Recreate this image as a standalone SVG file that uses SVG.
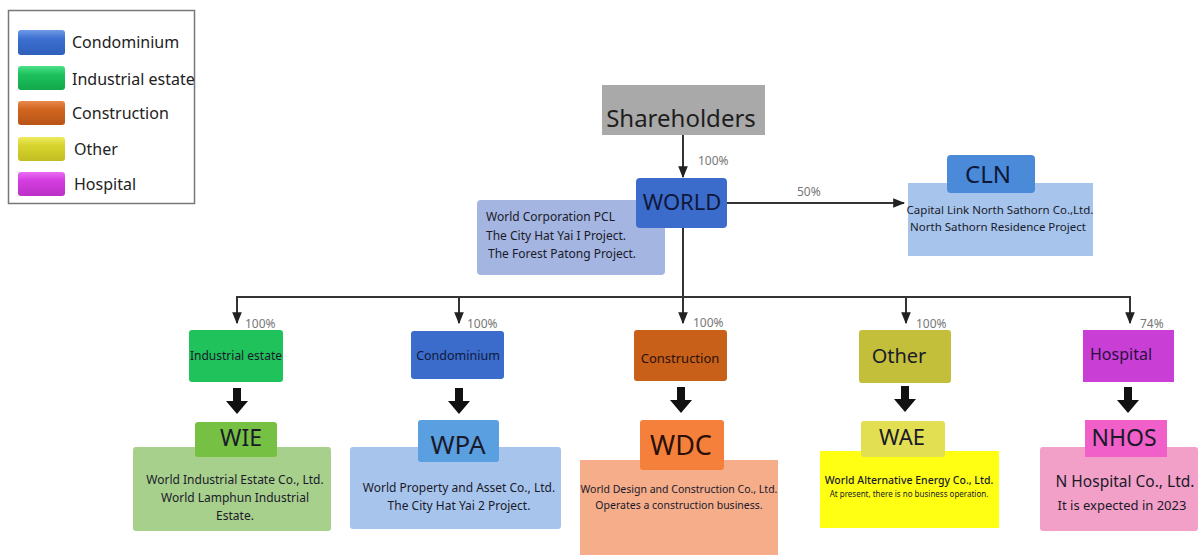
<svg xmlns="http://www.w3.org/2000/svg" width="1200" height="555" viewBox="0 0 1200 555">
<defs>
<marker id="ah" viewBox="0 0 10 10" refX="9" refY="5" markerWidth="6" markerHeight="6" orient="auto"><path d="M0,1 L10,5 L0,9 z" fill="#222"/></marker>
<linearGradient id="gBlue" x1="0" y1="0" x2="0" y2="1"><stop offset="0" stop-color="#6f9ae6"/><stop offset="0.35" stop-color="#3c6fd0"/><stop offset="1" stop-color="#2f5fba"/></linearGradient>
<linearGradient id="gGreen" x1="0" y1="0" x2="0" y2="1"><stop offset="0" stop-color="#4ee08a"/><stop offset="0.35" stop-color="#1cc25c"/><stop offset="1" stop-color="#12a84c"/></linearGradient>
<linearGradient id="gOrange" x1="0" y1="0" x2="0" y2="1"><stop offset="0" stop-color="#e88a4c"/><stop offset="0.35" stop-color="#d0651f"/><stop offset="1" stop-color="#b85418"/></linearGradient>
<linearGradient id="gYellow" x1="0" y1="0" x2="0" y2="1"><stop offset="0" stop-color="#eeea60"/><stop offset="0.35" stop-color="#d8d42e"/><stop offset="1" stop-color="#c2be22"/></linearGradient>
<linearGradient id="gPink" x1="0" y1="0" x2="0" y2="1"><stop offset="0" stop-color="#ec6cf4"/><stop offset="0.35" stop-color="#d43ee0"/><stop offset="1" stop-color="#bc30c8"/></linearGradient>
</defs>
<style>
text{font-family:"Noto Sans","Open Sans","DejaVu Sans",sans-serif;fill:#1a1a2a}
.lg{font-size:16px;fill:#222}
.pct{font-size:12px;fill:#777}
.desc{text-anchor:middle}
.mid{text-anchor:middle}
.ln{stroke:#333;stroke-width:2;fill:none}
.fat{fill:#111}
</style>
<rect width="1200" height="555" fill="#ffffff"/>

<g id="legend">
<rect x="8.5" y="10.5" width="186" height="193" fill="#fff" stroke="#777" stroke-width="1.5"/>
<rect x="18" y="30" width="47" height="25" rx="3" fill="url(#gBlue)"/>
<rect x="18" y="66" width="47" height="24" rx="3" fill="url(#gGreen)"/>
<rect x="18" y="101" width="47" height="24" rx="3" fill="url(#gOrange)"/>
<rect x="18" y="137" width="47" height="24" rx="3" fill="url(#gYellow)"/>
<rect x="18" y="172" width="47" height="24" rx="3" fill="url(#gPink)"/>
<text class="lg" x="72" y="48">Condominium</text>
<text class="lg" x="72" y="85">Industrial estate</text>
<text class="lg" x="72" y="119">Construction</text>
<text class="lg" x="74" y="155">Other</text>
<text class="lg" x="74" y="190">Hospital</text>
</g>

<g id="connectors">
<line class="ln" x1="683" y1="135" x2="683" y2="177" marker-end="url(#ah)"/>
<line class="ln" x1="727" y1="203" x2="904" y2="203" marker-end="url(#ah)"/>
<line class="ln" x1="683" y1="228" x2="683" y2="297"/>
<line class="ln" x1="236" y1="297" x2="1131" y2="297"/>
<line class="ln" x1="237" y1="296" x2="237" y2="323" marker-end="url(#ah)"/>
<line class="ln" x1="459" y1="296" x2="459" y2="323" marker-end="url(#ah)"/>
<line class="ln" x1="683" y1="296" x2="683" y2="323" marker-end="url(#ah)"/>
<line class="ln" x1="906" y1="296" x2="906" y2="323" marker-end="url(#ah)"/>
<line class="ln" x1="1130" y1="296" x2="1130" y2="323" marker-end="url(#ah)"/>
<text class="pct" x="698" y="165">100%</text>
<text class="pct" x="797" y="196">50%</text>
<text class="pct" x="245" y="328">100%</text>
<text class="pct" x="467" y="328">100%</text>
<text class="pct" x="693" y="327">100%</text>
<text class="pct" x="916" y="328">100%</text>
<text class="pct" x="1140" y="328">74%</text>
<path class="fat" d="M233,388 h8 v13 h7 l-11,13 l-11,-13 h7 z"/>
<path class="fat" d="M455,388 h8 v13 h7 l-11,13 l-11,-13 h7 z"/>
<path class="fat" d="M677,387 h8 v13 h7 l-11,13 l-11,-13 h7 z"/>
<path class="fat" d="M901,386 h8 v13 h7 l-11,13 l-11,-13 h7 z"/>
<path class="fat" d="M1124,387 h8 v13 h7 l-11,13 l-11,-13 h7 z"/>
</g>

<g id="shareholders">
<rect x="602" y="85" width="163" height="50" fill="#a9a9a9"/>
<text class="mid" x="681" y="127" style="font-size:24px;fill:#1e1e1e">Shareholders</text>
</g>

<g id="world">
<rect x="477" y="200" width="188" height="75" rx="4" fill="#a3b5e0"/>
<rect x="636" y="178" width="91" height="50" rx="4" fill="#3b6ccb"/>
<text class="mid" x="682" y="210" style="font-size:22px;fill:#10183a">WORLD</text>
<text x="486" y="221" style="font-size:12px">World Corporation PCL</text>
<text x="486" y="240" style="font-size:12px">The City Hat Yai I Project.</text>
<text x="488" y="258" style="font-size:12px">The Forest Patong Project.</text>
</g>

<g id="cln">
<rect x="908" y="183" width="185" height="73" fill="#a7c4ec"/>
<rect x="947" y="155" width="88" height="38" rx="4" fill="#4a8ad8"/>
<text class="mid" x="988" y="183" style="font-size:24px;fill:#10183a">CLN</text>
<text class="desc" x="1000" y="214" style="font-size:11.5px">Capital Link North Sathorn Co.,Ltd.</text>
<text class="desc" x="998" y="231" style="font-size:11.5px">North Sathorn Residence Project</text>
</g>

<g id="industrial">
<rect x="189" y="330" width="94" height="52" rx="3" fill="#1fc25b"/>
<text class="mid" x="236" y="360" style="font-size:12px">Industrial estate</text>
</g>
<g id="condominium">
<rect x="411" y="331" width="93" height="48" rx="3" fill="#3b6ccb"/>
<text class="mid" x="458" y="360" style="font-size:12.5px;fill:#10183a">Condominium</text>
</g>
<g id="construction">
<rect x="634" y="330" width="93" height="51" rx="3" fill="#c8601a"/>
<text class="mid" x="680" y="363" style="font-size:13px;fill:#2a1008">Construction</text>
</g>
<g id="other">
<rect x="859" y="330" width="92" height="53" rx="3" fill="#c4bf3a"/>
<text class="mid" x="899" y="363" style="font-size:20px">Other</text>
</g>
<g id="hospital">
<rect x="1083" y="330" width="91" height="52" fill="#c93fd6"/>
<text class="mid" x="1121" y="360" style="font-size:16px;fill:#2a1040">Hospital</text>
</g>

<g id="wie">
<rect x="133" y="447" width="198" height="84" rx="3" fill="#a8d08d"/>
<rect x="195" y="422" width="82" height="35" rx="3" fill="#76c043"/>
<text class="mid" x="241" y="446" style="font-size:23px">WIE</text>
<text class="desc" x="235" y="484" style="font-size:12px">World Industrial Estate Co., Ltd.</text>
<text class="desc" x="235" y="502" style="font-size:12px">World Lamphun Industrial</text>
<text class="desc" x="235" y="520" style="font-size:12px">Estate.</text>
</g>

<g id="wpa">
<rect x="350" y="447" width="211" height="82" rx="3" fill="#a7c4ec"/>
<rect x="418" y="420" width="81" height="42" rx="3" fill="#5a9fe0"/>
<text class="mid" x="458" y="454" style="font-size:26px">WPA</text>
<text class="desc" x="459" y="492" style="font-size:12px">World Property and Asset Co., Ltd.</text>
<text class="desc" x="459" y="510" style="font-size:12px">The City Hat Yai 2 Project.</text>
</g>

<g id="wdc">
<rect x="580" y="460" width="198" height="95" fill="#f5ad8a"/>
<rect x="640" y="420" width="84" height="50" rx="3" fill="#f4803c"/>
<text class="mid" x="681" y="455" style="font-size:27px;fill:#2a1008">WDC</text>
<text class="desc" x="679" y="493" style="font-size:10.5px">World Design and Construction Co., Ltd.</text>
<text class="desc" x="679" y="509" style="font-size:10.5px">Operates a construction business.</text>
</g>

<g id="wae">
<rect x="820" y="451" width="179" height="77" fill="#ffff14"/>
<rect x="861" y="421" width="84" height="36" rx="3" fill="#e2df52"/>
<text class="mid" x="902" y="445" style="font-size:22px">WAE</text>
<text class="desc" x="909" y="484" style="font-size:10.5px;font-weight:500">World Alternative Energy Co., Ltd.</text>
<text class="desc" x="909" y="497" style="font-size:8px">At present, there is no business operation.</text>
</g>

<g id="nhos">
<rect x="1040" y="447" width="158" height="84" rx="3" fill="#f3a0c8"/>
<rect x="1085" y="420" width="82" height="37" fill="#f060c8"/>
<text class="mid" x="1124" y="446" style="font-size:23px">NHOS</text>
<text class="desc" x="1125" y="487" style="font-size:15.5px">N Hospital Co., Ltd.</text>
<text class="desc" x="1122" y="510" style="font-size:13px">It is expected in 2023</text>
</g>
</svg>
